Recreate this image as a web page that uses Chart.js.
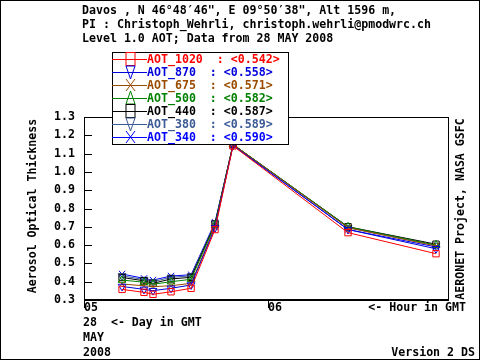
<!DOCTYPE html>
<html>
<head>
<meta charset="utf-8">
<script src="https://cdn.jsdelivr.net/npm/chart.js@4.4.1/dist/chart.umd.min.js"></script>
<style>
  html, body { margin: 0; padding: 0; background: #fff; }
  #box { width: 478px; height: 358px; border: 1px solid #000; position: relative; }
</style>
</head>
<body>
<div id="box"><canvas id="aotChart" width="478" height="358"></canvas></div>
<script>
// hour of day (GMT) for each measurement
const hours = [5.207, 5.326, 5.375, 5.473, 5.582, 5.712, 5.810, 6.435, 6.913];

const aot1020 = [0.358, 0.342, 0.331, 0.345, 0.364, 0.685, 1.142, 0.668, 0.553];
const aot870  = [0.374, 0.358, 0.351, 0.364, 0.382, 0.695, 1.145, 0.685, 0.580];
const aot675  = [0.387, 0.378, 0.373, 0.378, 0.391, 0.700, 1.150, 0.695, 0.595];
const aot500  = [0.409, 0.397, 0.386, 0.400, 0.413, 0.710, 1.150, 0.700, 0.600];
const aot440  = [0.423, 0.405, 0.391, 0.415, 0.424, 0.715, 1.150, 0.700, 0.605];
const aot380  = [0.432, 0.412, 0.400, 0.424, 0.432, 0.720, 1.150, 0.695, 0.598];
const aot340  = [0.442, 0.418, 0.409, 0.431, 0.438, 0.725, 1.145, 0.685, 0.590];

const names  = ['AOT_1020', 'AOT_870', 'AOT_675', 'AOT_500', 'AOT_440', 'AOT_380', 'AOT_340'];
const means  = ['0.542', '0.558', '0.571', '0.582', '0.587', '0.589', '0.590'];
const colors = ['#ff0000', '#0000dd', '#994c00', '#008000', '#000000', '#3c5a96', '#0000ff'];
const styles = ['rect', 'triangle', 'crossRot', 'triangle', 'rect', 'triangle', 'crossRot'];
const rots   = [0, 180, 0, 0, 0, 180, 0];
const series = [aot1020, aot870, aot675, aot500, aot440, aot380, aot340];

const titleLines = [
  'Davos , N 46\u00b048\u203246", E 09\u00b050\u203238", Alt 1596 m,',
  'PI : Christoph_Wehrli, christoph.wehrli@pmodwrc.ch',
  'Level 1.0 AOT; Data from 28 MAY 2008'
];

const FONT = 'bold 11.6px "DejaVu Sans Mono"';

const datasets = series.map((s, i) => ({
  label: names[i],
  data: s.map((v, j) => ({ x: hours[j], y: v })),
  borderColor: colors[i],
  backgroundColor: 'transparent',
  borderWidth: 1,
  pointStyle: styles[i],
  pointRotation: rots[i],
  pointRadius: 4.5,
  pointBorderWidth: 1,
  pointBorderColor: colors[i],
  pointBackgroundColor: 'transparent',
  tension: 0
}));

function marker(ctx, style, rot, x, y) {
  if (style === 'rect') {
    ctx.strokeRect(x - 4.5, y - 6.5, 9, 13);
    return;
  }
  ctx.beginPath();
  if (style === 'triangle') {
    const d = rot ? 1 : -1;
    ctx.moveTo(x, y + d * 7);
    ctx.lineTo(x - 4.5, y - d * 6);
    ctx.lineTo(x + 4.5, y - d * 6);
    ctx.closePath();
  } else {
    ctx.moveTo(x - 4.5, y - 6); ctx.lineTo(x + 4.5, y + 6);
    ctx.moveTo(x + 4.5, y - 6); ctx.lineTo(x - 4.5, y + 6);
  }
  ctx.stroke();
}

const decor = {
  id: 'decor',
  afterDraw(chart) {
    const ctx = chart.ctx;
    const a = chart.chartArea;
    const xs = chart.scales.x, ys = chart.scales.y;
    ctx.save();
    ctx.strokeStyle = '#000';
    ctx.fillStyle = '#000';
    ctx.lineWidth = 1;

    // plot frame
    ctx.strokeRect(a.left + 0.5, a.top + 0.5, a.right - a.left, a.bottom - a.top);
    ctx.beginPath();
    ctx.moveTo(a.left, a.bottom - 0.5); ctx.lineTo(a.right + 1, a.bottom - 0.5);
    ctx.stroke();

    // inside ticks on y, outside ticks on x
    ctx.beginPath();
    ys.ticks.forEach(t => {
      const y = Math.round(ys.getPixelForValue(t.value)) + 0.5;
      ctx.moveTo(a.left, y); ctx.lineTo(a.left + 8, y);
    });
    xs.ticks.forEach(t => {
      const x = Math.round(xs.getPixelForValue(t.value)) + 0.5;
      ctx.moveTo(x, a.bottom); ctx.lineTo(x, a.bottom + 8);
    });
    ctx.stroke();

    ctx.font = FONT;
    ctx.textBaseline = 'middle';
    ctx.textAlign = 'left';
    titleLines.forEach((t, i) => ctx.fillText(t, 81, 10 + i * 14));

    ctx.fillText('28  <- Day in GMT', 82, 322);
    ctx.fillText('MAY', 82, 337);
    ctx.fillText('2008', 82, 352);
    ctx.textAlign = 'right';
    ctx.fillText('<- Hour in GMT', 465, 307);
    ctx.fillText('Version 2 DS', 474, 352);

    ctx.textAlign = 'center';
    ctx.save();
    ctx.translate(32, 205);
    ctx.rotate(-Math.PI / 2);
    ctx.fillText('Aerosol Optical Thickness', 0, 0);
    ctx.restore();
    ctx.save();
    ctx.translate(460, 208);
    ctx.rotate(-Math.PI / 2);
    ctx.fillText('AERONET Project, NASA GSFC', 0, 0);
    ctx.restore();

    // legend box
    const lx = 111, ly = 51, lw = 176, lh = 92;
    ctx.fillStyle = '#fff';
    ctx.fillRect(lx, ly, lw, lh);
    ctx.strokeStyle = '#000';
    ctx.strokeRect(lx + 0.5, ly + 0.5, lw, lh);
    ctx.textAlign = 'left';
    names.forEach((n, i) => {
      const y = 58 + i * 13;
      ctx.strokeStyle = colors[i];
      ctx.fillStyle = colors[i];
      ctx.beginPath();
      ctx.moveTo(lx, y + 0.5); ctx.lineTo(lx + 35, y + 0.5);
      ctx.stroke();
      marker(ctx, styles[i], rots[i], lx + 18.5, y);
      ctx.fillText(n + '  : <' + means[i] + '>', 146, y + 1);
    });
    ctx.restore();
  }
};

new Chart(document.getElementById('aotChart'), {
  type: 'line',
  data: { datasets: datasets },
  options: {
    responsive: false,
    animation: false,
    devicePixelRatio: 1,
    layout: { padding: { left: 43, top: 116, right: 31, bottom: 43 } },
    plugins: { legend: { display: false }, title: { display: false }, tooltip: { enabled: false } },
    scales: {
      x: {
        type: 'linear',
        min: 5,
        max: 5 + 364 / 184,
        grid: { display: false, drawTicks: false },
        border: { display: false },
        afterBuildTicks: s => { s.ticks = s.ticks.filter(t => Number.isInteger(t.value)); },
        afterFit: s => { s.height = 16; },
        ticks: {
          stepSize: 1,
          align: 'start',
          padding: 1,
          color: '#000',
          font: { family: 'DejaVu Sans Mono', size: 11.6, weight: 'bold' },
          callback: v => (v < 10 ? '0' : '') + v
        }
      },
      y: {
        min: 0.3,
        max: 1.3,
        grid: { display: false, drawTicks: false },
        border: { display: false },
        afterFit: s => { s.width = 40; },
        ticks: {
          stepSize: 0.1,
          padding: 9,
          color: '#000',
          font: { family: 'DejaVu Sans Mono', size: 11.6, weight: 'bold' },
          callback: v => v.toFixed(1)
        }
      }
    }
  },
  plugins: [decor]
});
</script>
</body>
</html>
